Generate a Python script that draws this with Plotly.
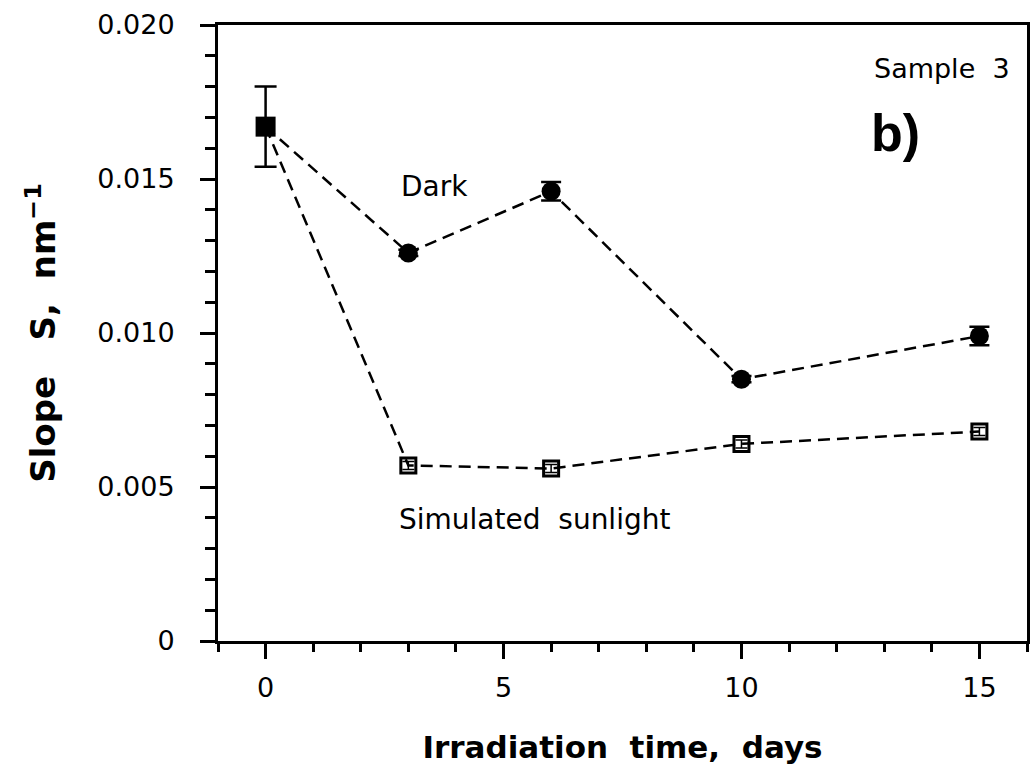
import plotly.graph_objects as go

# Data
days_dark = [0, 3, 6, 10, 15]
slope_dark = [0.0167, 0.0126, 0.0146, 0.0085, 0.0099]
err_dark = [0.0013, 0.0001, 0.0003, 0.0001, 0.0003]

days_sun = [0, 3, 6, 10, 15]
slope_sun = [0.0167, 0.0057, 0.0056, 0.0064, 0.0068]
err_sun = [0.0013, 0.00013, 0.00013, 0.00013, 0.00013]

x_ticks = [0, 5, 10, 15]
y_ticks = [0, 0.005, 0.010, 0.015, 0.020]
y_tick_labels = ["0", "0.005", "0.010", "0.015", "0.020"]

FONT = "DejaVu Sans"
SP2 = "&nbsp;&nbsp;"

fig = go.Figure()

# dashed lines
for xs, ys in ((days_dark, slope_dark), (days_sun, slope_sun)):
    fig.add_trace(go.Scatter(x=xs, y=ys, mode="lines",
                             line=dict(color="black", width=2.5, dash="12px,7px"),
                             showlegend=False, hoverinfo="skip"))

# dark series markers (filled circles), the shared initial point drawn separately
fig.add_trace(go.Scatter(x=days_dark[1:], y=slope_dark[1:], mode="markers",
                         marker=dict(symbol="circle", size=19, color="black"),
                         error_y=dict(type="data", array=err_dark[1:], color="black",
                                      thickness=2.5, width=10),
                         showlegend=False))
# simulated sunlight markers (open squares)
fig.add_trace(go.Scatter(x=days_sun[1:], y=slope_sun[1:], mode="markers",
                         marker=dict(symbol="square-open", size=15, color="black",
                                     line=dict(width=3, color="black")),
                         error_y=dict(type="data", array=err_sun[1:], color="black",
                                      thickness=1.5, width=6),
                         showlegend=False))
# initial point (filled square)
fig.add_trace(go.Scatter(x=days_dark[:1], y=slope_dark[:1], mode="markers",
                         marker=dict(symbol="square", size=20, color="black"),
                         error_y=dict(type="data", array=err_dark[:1], color="black",
                                      thickness=2.5, width=11),
                         showlegend=False))

fig.add_annotation(x=3.55, y=0.01477, text="Dark", showarrow=False,
                   font=dict(family=FONT, size=28, color="black"))
fig.add_annotation(x=5.66, y=0.00395, text="Simulated" + SP2 + "sunlight", showarrow=False,
                   font=dict(family=FONT, size=28, color="black"))
fig.add_annotation(x=14.22, y=0.0186, text="Sample" + SP2 + "3", showarrow=False,
                   font=dict(family=FONT, size=27, color="black"))
fig.add_annotation(x=13.23, y=0.0165, text="<b>b)</b>", showarrow=False,
                   font=dict(family="Liberation Sans", size=52, color="black"))

fig.update_xaxes(range=[-1, 16], tickvals=x_ticks, ticks="outside", ticklen=15,
                 tickwidth=2.5, tickcolor="black", showline=True, linewidth=3,
                 linecolor="black", mirror=True, showgrid=False, zeroline=False,
                 tickfont=dict(family=FONT, size=27, color="black"),
                 ticklabelstandoff=6,
                 minor=dict(dtick=1, tick0=0, ticks="outside", ticklen=8,
                            tickwidth=2.5, tickcolor="black", showgrid=False),
                 title=dict(text="<b>Irradiation" + SP2 + "time," + SP2 + "days</b>",
                            font=dict(family=FONT, size=31, color="black"),
                            standoff=34))
fig.update_yaxes(range=[0, 0.020], tickvals=y_ticks, ticktext=y_tick_labels,
                 ticks="outside", ticklen=15, tickwidth=2.5, tickcolor="black",
                 showline=True, linewidth=3, linecolor="black", mirror=True,
                 showgrid=False, zeroline=False,
                 tickfont=dict(family=FONT, size=27, color="black"),
                 ticklabelstandoff=20,
                 minor=dict(dtick=0.001, tick0=0, ticks="outside", ticklen=10,
                            tickwidth=2.5, tickcolor="black", showgrid=False),
                 title=dict(text="<b>Slope&nbsp;&nbsp;&nbsp;S," + SP2 + "nm<sup>−1</sup></b>",
                            font=dict(family=FONT, size=34, color="black"),
                            standoff=32))

fig.update_layout(width=1032, height=774, margin=dict(l=218, r=2, t=25, b=133),
                  plot_bgcolor="white", paper_bgcolor="white")

fig.write_html("out.html")
